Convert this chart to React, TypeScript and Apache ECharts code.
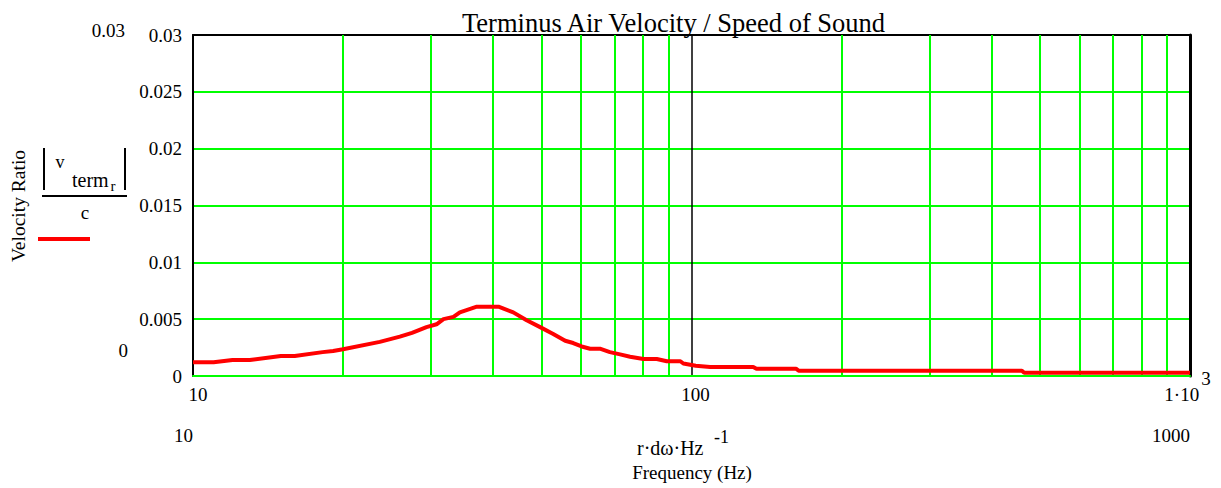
import React, { useEffect, useRef } from "react";
import * as echarts from "echarts";

const freqHz = [10, 11, 12, 13, 15, 16, 18.2, 19.1, 20, 23.7, 26, 27.5, 29.4, 30.8, 31.8, 33.3, 34.3, 37.1, 41, 43.9, 46.7, 49.7, 52.8, 55.8, 57.9, 60.2, 62.6, 65.5, 68.6, 71.9, 75.3, 80.1, 85.2, 89.2, 95, 96.3, 102, 109, 133, 135, 162, 164, 460, 465, 1000];
const velRatio = [0.0012, 0.0012, 0.0014, 0.0014, 0.00176, 0.00176, 0.0021, 0.0022, 0.00235, 0.003, 0.00346, 0.0038, 0.0043, 0.00455, 0.005, 0.0052, 0.0056, 0.0061, 0.0061, 0.0056, 0.0049, 0.0043, 0.0037, 0.0031, 0.0029, 0.0026, 0.0024, 0.0024, 0.0021, 0.0019, 0.0017, 0.0015, 0.0015, 0.0013, 0.0013, 0.0011, 0.0009, 0.0008, 0.0008, 0.00064, 0.00064, 0.00047, 0.00047, 0.00029, 0.00029];
const minorGridX = [20, 30, 40, 50, 60, 70, 80, 90, 200, 300, 400, 500, 600, 700, 800, 900];
const yTicks = [0, 0.005, 0.01, 0.015, 0.02, 0.025, 0.03];
const xTickLabels: Record<number, string> = { 10: "{a|10}", 100: "{b|100}", 1000: "{c|1·10}{sup|3}" };

const FONT = "'Liberation Serif', 'Times New Roman', serif";

export default function App() {
  const ref = useRef<HTMLDivElement>(null);
  useEffect(() => {
    document.body.style.margin = "0";
    const chart = echarts.init(ref.current!, null, { renderer: "svg" });
    const data = freqHz.map((f, i) => [f, velRatio[i]]);
    const txt = (text: string, x: number, y: number, size: number, align = "left", extra: any = {}) => ({
      type: "text",
      x,
      y,
      silent: true,
      style: { text, fontFamily: FONT, fontSize: size, fill: "#000", align, verticalAlign: "middle", ...extra },
    });
    const lab = { fontFamily: FONT, fontSize: 19, color: "#000", verticalAlign: "bottom" };
    chart.setOption({
      animation: false,
      backgroundColor: "#fff",
      textStyle: { fontFamily: FONT },
      title: {
        text: "Terminus Air Velocity / Speed of Sound",
        left: 457,
        top: 4,
        textStyle: { fontFamily: FONT, fontSize: 26.5, fontWeight: "normal", color: "#000" },
      },
      grid: { left: 193, right: 31, top: 35, bottom: 112 },
      xAxis: [
        {
          type: "log",
          logBase: 10,
          min: 10,
          max: 1000,
          axisLine: { lineStyle: { color: "#000", width: 2 } },
          axisTick: { show: false },
          splitLine: { show: true, lineStyle: { color: "#000", width: 1.5 } },
          axisLabel: {
            margin: -7,
            fontFamily: FONT,
            fontSize: 19,
            color: "#000",
            formatter: (v: number) => xTickLabels[Math.round(v)] ?? "",
            rich: {
              a: { ...lab, padding: [16, 0, 0, 10] },
              b: { ...lab, padding: [16, 0, 0, 8] },
              c: { ...lab, padding: [16, 0, 0, 0] },
              sup: { ...lab, padding: [0, 5, 16, 2] },
            },
          },
        },
        {
          type: "log",
          logBase: 10,
          min: 10,
          max: 1000,
          position: "top",
          offset: 2,
          axisLine: { lineStyle: { color: "#00ff00", width: 2 } },
          axisTick: { show: false },
          axisLabel: { show: false },
          splitLine: { show: false },
        },
        {
          type: "log",
          logBase: 10,
          min: 10,
          max: 1000,
          position: "top",
          axisLine: { lineStyle: { color: "#000", width: 2 } },
          axisTick: { show: false },
          axisLabel: { show: false },
          splitLine: { show: false },
        },
      ],
      yAxis: [
        {
          type: "value",
          min: 0,
          max: 0.03,
          interval: 0.005,
          axisLine: { show: true, lineStyle: { color: "#000", width: 2 } },
          axisTick: { show: false },
          splitLine: { show: true, lineStyle: { color: "#00ff00", width: 2 } },
          axisLabel: {
            margin: 11,
            padding: [7, 0, 0, 0],
            fontFamily: FONT,
            fontSize: 19,
            color: "#000",
            formatter: (v: number) => (yTicks.some((t) => Math.abs(t - v) < 1e-9) ? String(+v.toFixed(3)) : ""),
          },
        },
        {
          type: "value",
          min: 0,
          max: 0.03,
          position: "right",
          axisLine: { show: true, lineStyle: { color: "#000", width: 3 } },
          axisTick: { show: false },
          axisLabel: { show: false },
          splitLine: { show: false },
        },
      ],
      series: [
        {
          type: "line",
          data,
          showSymbol: false,
          symbol: "none",
          lineStyle: { color: "#ff0000", width: 4 },
          z: 5,
          markLine: {
            silent: true,
            symbol: "none",
            label: { show: false },
            lineStyle: { color: "#00ff00", width: 2, type: "solid" },
            data: minorGridX.map((x) => ({ xAxis: x })),
            z: 1,
          },
        },
      ],
      graphic: [
        txt("0.03", 125, 30, 19, "right"),
        txt("0", 128, 350, 19, "right"),
        txt("10", 193, 435, 19, "right"),
        txt("1000", 1190, 435, 19, "right"),
        txt("r·dω·Hz", 637, 448, 20, "left"),
        txt("-1", 714, 437, 18, "left"),
        txt("Frequency (Hz)", 692, 472, 19, "center"),
        {
          type: "text",
          x: 18,
          y: 206,
          rotation: Math.PI / 2,
          silent: true,
          style: { text: "Velocity Ratio", fontFamily: FONT, fontSize: 19.5, fill: "#000", align: "center", verticalAlign: "middle" },
        },
        { type: "line", silent: true, shape: { x1: 44, y1: 148, x2: 44, y2: 190 }, style: { stroke: "#000", lineWidth: 2 } },
        { type: "line", silent: true, shape: { x1: 125, y1: 148, x2: 125, y2: 190 }, style: { stroke: "#000", lineWidth: 2 } },
        { type: "line", silent: true, shape: { x1: 42, y1: 196, x2: 127, y2: 196 }, style: { stroke: "#000", lineWidth: 2 } },
        txt("v", 60, 162, 18, "center"),
        txt("term", 72, 180, 20, "left"),
        txt("r", 113, 186, 15, "center"),
        txt("c", 85, 212, 19, "center"),
        { type: "line", silent: true, shape: { x1: 38, y1: 239, x2: 90, y2: 239 }, style: { stroke: "#ff0000", lineWidth: 4 } },
      ],
    });
    return () => chart.dispose();
  }, []);
  return <div ref={ref} style={{ width: 1221, height: 488 }} />;
}
